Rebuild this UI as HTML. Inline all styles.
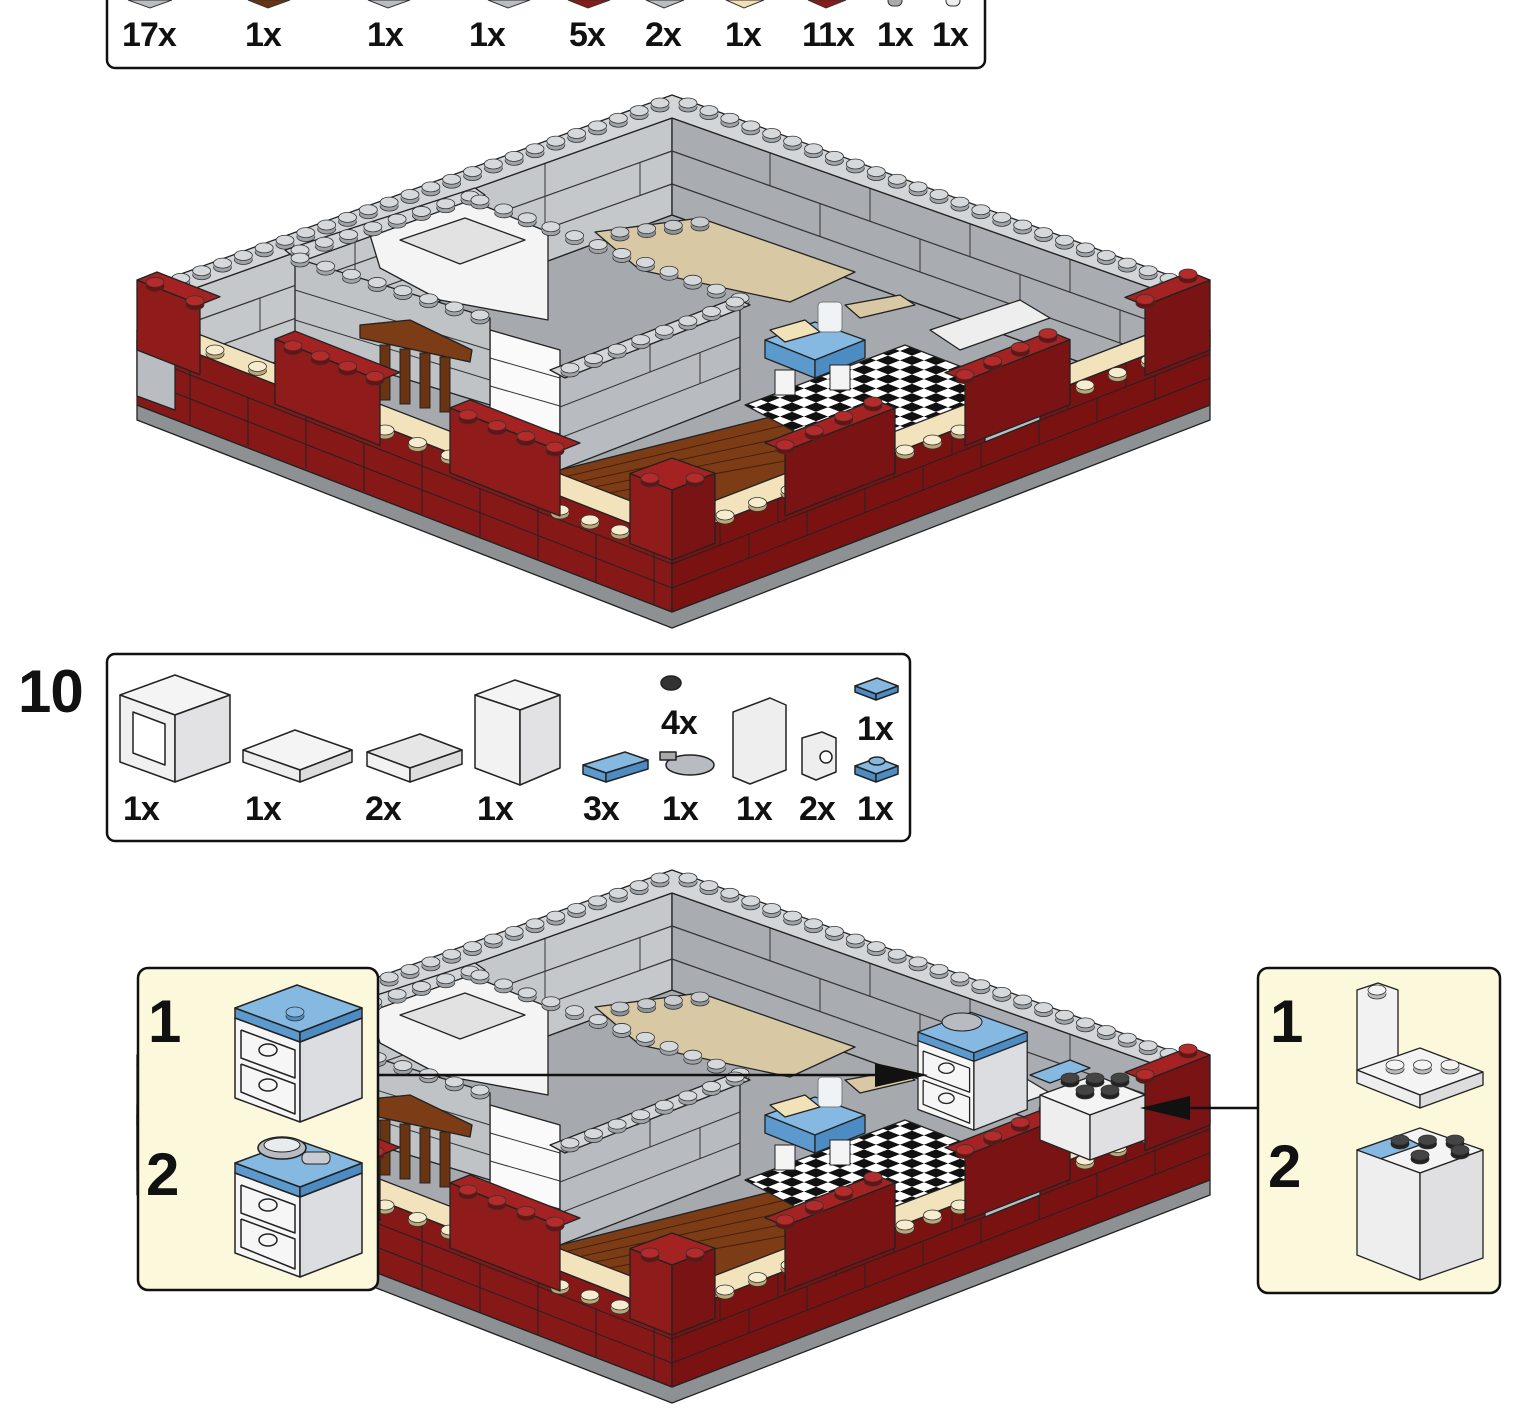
<!DOCTYPE html>
<html><head><meta charset="utf-8">
<style>
html,body{margin:0;padding:0;background:#fff;}
svg{display:block;}
text{font-family:"Liberation Sans Narrow","Liberation Sans",sans-serif;font-weight:bold;fill:#111;letter-spacing:-1px;}
</style></head>
<body>
<svg id="s" width="1524" height="1410" viewBox="0 0 1524 1410" xmlns="http://www.w3.org/2000/svg">
<defs>
<pattern id="chk" width="24" height="24" patternUnits="userSpaceOnUse" patternTransform="matrix(1,0.39,-1,0.39,0,0)">
<rect width="24" height="24" fill="#fff"/><rect width="12" height="12" fill="#111"/><rect x="12" y="12" width="12" height="12" fill="#111"/>
</pattern>
<g id="cab" stroke="#222" stroke-width="1.5" stroke-linejoin="round">
<polygon points="0,38 65,62 65,142 0,118" fill="#f6f6f6"/>
<polygon points="65,62 127,38 127,118 65,142" fill="#dcdde0"/>
<polygon points="0,28 65,52 65,62 0,38" fill="#5c9acd"/>
<polygon points="65,52 127,28 127,38 65,62" fill="#4d8cc2"/>
<polygon points="0,28 62,5 127,28 65,52" fill="#86b9e2"/>
<polyline points="6,50 60,70 60,98 6,78 6,50" fill="none"/>
<polyline points="6,84 60,104 60,134 6,112 6,84" fill="none"/>
<ellipse cx="33" cy="70" rx="9" ry="6" fill="none"/>
<ellipse cx="33" cy="105" rx="9" ry="6" fill="none"/>
</g>
</defs>
<g id="m1"></g>
<g id="m2"></g>

<rect x="107" y="-10" width="878" height="78" rx="8" fill="#fff" stroke="#111" stroke-width="2.5"/>
<g stroke="#333" stroke-width="1">
<polygon points="128,0 150,8 172,0" fill="#b9bdc1"/>
<polygon points="248,0 268,8 290,0" fill="#6a3412"/>
<polygon points="368,0 388,8 410,0" fill="#b9bdc1"/>
<polygon points="488,0 508,8 530,0" fill="#b9bdc1"/>
<polygon points="568,0 588,8 610,0" fill="#8b1a1a"/>
<polygon points="646,0 664,8 684,0" fill="#b9bdc1"/>
<polygon points="726,0 744,8 764,0" fill="#efe0b5"/>
<polygon points="808,0 826,8 846,0" fill="#8b1a1a"/>
<rect x="888" y="-4" width="14" height="10" rx="5" fill="#aaa"/>
<rect x="946" y="-4" width="14" height="10" rx="5" fill="#eee"/>
</g>
<g font-size="34">
<text x="122" y="46">17x</text><text x="245" y="46">1x</text><text x="367" y="46">1x</text><text x="469" y="46">1x</text>
<text x="569" y="46">5x</text><text x="645" y="46">2x</text><text x="725" y="46">1x</text><text x="802" y="46">11x</text>
<text x="877" y="46">1x</text><text x="932" y="46">1x</text>
</g>

<text x="18" y="712" font-size="60">10</text>
<rect x="107" y="654" width="803" height="187" rx="8" fill="#fff" stroke="#111" stroke-width="2.5"/>
<g stroke="#222" stroke-width="1.5" stroke-linejoin="round">
<polygon points="120,695 175,675 230,695 175,715" fill="#f4f4f4"/>
<polygon points="120,695 175,715 175,782 120,762" fill="#f0f0f0"/>
<polygon points="175,715 230,695 230,762 175,782" fill="#e2e2e4"/>
<polygon points="133,712 165,724 165,765 133,753" fill="#fff"/>
<polygon points="243,750 295,730 352,750 300,770" fill="#f4f4f4"/>
<polygon points="243,750 300,770 300,782 243,762" fill="#eee"/>
<polygon points="300,770 352,750 352,762 300,782" fill="#ddd"/>
<polygon points="367,752 420,734 462,750 410,768" fill="#e6e6e6"/>
<polygon points="367,752 410,768 410,782 367,766" fill="#f2f2f2"/>
<polygon points="410,768 462,750 462,764 410,782" fill="#ddd"/>
<polygon points="475,695 515,680 560,695 520,710" fill="#f4f4f4"/>
<polygon points="475,695 520,710 520,785 475,768" fill="#f2f2f2"/>
<polygon points="520,710 560,695 560,768 520,785" fill="#e2e2e4"/>
<polygon points="583,765 625,752 648,760 606,773" fill="#86b9e2"/>
<polygon points="583,765 606,773 606,782 583,774" fill="#5c9acd"/>
<polygon points="606,773 648,760 648,769 606,782" fill="#4d8cc2"/>
<ellipse cx="671" cy="683" rx="10" ry="7" fill="#333"/>
<ellipse cx="690" cy="765" rx="24" ry="10" fill="#b8bcc0"/>
<rect x="660" y="752" width="16" height="8" fill="#aaa"/>
<polygon points="733,712 770,698 786,705 786,770 750,784 733,777" fill="#eee"/>
<polygon points="802,738 822,732 836,738 836,772 816,780 802,774" fill="#eee"/>
<circle cx="826" cy="757" r="6" fill="#fff"/>
<polygon points="855,686 877,678 898,686 876,694" fill="#86b9e2"/>
<polygon points="855,686 876,694 876,700 855,692" fill="#4d8cc2"/>
<polygon points="876,694 898,686 898,692 876,700" fill="#4d8cc2"/>
<polygon points="855,766 877,758 898,766 876,774" fill="#86b9e2"/>
<polygon points="855,766 876,774 876,782 855,774" fill="#4d8cc2"/>
<polygon points="876,774 898,766 898,774 876,782" fill="#4d8cc2"/>
<ellipse cx="877" cy="761" rx="8" ry="4" fill="#86b9e2"/>
</g>
<g font-size="34">
<text x="123" y="820">1x</text><text x="245" y="820">1x</text><text x="365" y="820">2x</text><text x="477" y="820">1x</text>
<text x="583" y="820">3x</text><text x="662" y="820">1x</text><text x="736" y="820">1x</text><text x="799" y="820">2x</text>
<text x="857" y="820">1x</text><text x="661" y="734">4x</text><text x="857" y="740">1x</text>
</g>
<g id="ins"></g>
</svg>
<script>
function P(a){return a.map(p=>p.join(',')).join(' ');}
function poly(pts,fill,extra){return '<polygon points="'+P(pts)+'" fill="'+fill+'" stroke="#222" stroke-width="1.3" stroke-linejoin="round" '+(extra||'')+'/>';}
function stud(x,y,c,d){c=c||'#d6d9dc';d=d||'#9ea3a8';return '<ellipse cx="'+x+'" cy="'+(y+4)+'" rx="9" ry="5" fill="'+d+'" stroke="#333" stroke-width="0.8"/><rect x="'+(x-9)+'" y="'+y+'" width="18" height="4" fill="'+d+'"/><ellipse cx="'+x+'" cy="'+y+'" rx="9" ry="5" fill="'+c+'" stroke="#333" stroke-width="0.8"/>';}
function studLine(x1,y1,x2,y2,n,c,d){let s='';for(let i=0;i<n;i++){let t=n==1?0:i/(n-1);s+=stud(x1+(x2-x1)*t,y1+(y2-y1)*t,c,d);}return s;}
function line(x1,y1,x2,y2,w,col){return '<line x1="'+x1+'" y1="'+y1+'" x2="'+x2+'" y2="'+y2+'" stroke="'+(col||'#333')+'" stroke-width="'+(w||1)+'"/>';}
function yl(x){return 330+(x-137)*0.3925;}
function yr(x){return 540-(x-672)*0.3903;}
function model(dy){
 let s='<g transform="translate(0,'+dy+')">';
 s+=poly([[137,405],[672,612],[1210,405],[1210,420],[672,628],[137,420]],'#8e9194');
 s+=poly([[672,215],[1185,400],[672,585],[162,404]],'#a6aaae');
 s+=poly([[162,300],[672,118],[672,215],[162,404]],'#c5c8cb');
 s+=poly([[672,118],[1185,300],[1185,400],[672,215]],'#a9adb1');
 for(let k=1;k<3;k++){let o=k*33;s+=line(162,300+o,672,118+o,1.2);s+=line(672,118+o,1185,300+o,1.2);}
 for(let x=260;x<672;x+=95){let y=300-(x-162)*0.357;s+=line(x,y+(x%2?0:33),x,y+66,1);}
 for(let x=770;x<1130;x+=100){let y=118+(x-672)*0.355;s+=line(x,y,x,y+33,1);s+=line(x+50,y+51,x+50,y+84,1);}
 s+=poly([[137,290],[672,95],[1210,290],[1185,300],[672,118],[162,300]],'#d3d6d9');
 s+=studLine(160,286,660,103,25);
 s+=studLine(688,103,1190,286,25);
 s+=poly([[370,235],[470,200],[548,232],[548,320],[440,300],[380,268]],'#f4f4f4');
 s+=poly([[400,240],[465,218],[525,240],[460,264]],'#e2e2e2');
 s+=poly([[490,330],[560,350],[560,450],[490,430]],'#fafafa');
 for(let k=1;k<4;k++){s+=line(490,330+k*28,560,350+k*28,1);}
 s+=poly([[595,232],[700,218],[855,272],[790,302],[640,270]],'#d8c8a4');
 s+=studLine(620,232,700,222,4,'#c9ccce','#8e9397');
 s+=poly([[295,258],[490,318],[490,405],[295,345]],'#bfc3c6');
 s+=line(295,290,490,350,1);s+=line(295,320,490,380,1);
 s+=poly([[285,250],[475,188],[485,195],[300,262]],'#d3d6d9');
 s+=studLine(300,250,470,196,8);
 s+=studLine(480,200,740,298,12);
 s+=studLine(300,258,480,315,8);
 s+=poly([[560,470],[790,412],[800,470],[650,535],[560,505]],'#7b3c16');
 for(let k=1;k<5;k++){s+=line(560,470+k*8,790,412+k*12,1,'#4a200a');}
 s+=poly([[745,405],[905,345],[975,372],[975,445],[820,445]],'url(#chk)');
 s+=poly([[560,375],[740,305],[740,400],[560,470]],'#b8bcc0');
 s+=line(560,407,740,337,1);s+=line(560,438,740,368,1);s+=line(650,340,650,372,1);s+=line(700,352,700,384,1);
 s+=poly([[550,370],[735,298],[750,305],[565,378]],'#d3d6d9');
 s+=studLine(570,368,735,302,8);
 s+=poly([[360,325],[410,320],[472,350],[470,362],[360,338]],'#7b3c16');
 for(let x of [385,405,425,445]){s+='<rect x="'+(x-5)+'" y="'+(340+(x-360)*0.2)+'" width="10" height="55" fill="#6a3412" stroke="#222"/>';}
 s+=poly([[765,340],[815,322],[865,340],[815,360]],'#86b9e2');
 s+=poly([[765,340],[815,360],[815,378],[765,358]],'#5c9acd');
 s+=poly([[815,360],[865,340],[865,358],[815,378]],'#4d8cc2');
 s+=poly([[770,330],[805,320],[820,332],[785,342]],'#f1e2b8');
 s+='<rect x="775" y="370" width="20" height="25" fill="#f4f4f4" stroke="#222"/><rect x="830" y="365" width="20" height="25" fill="#f4f4f4" stroke="#222"/>';
 s+='<rect x="818" y="302" width="24" height="30" rx="4" fill="#f0f3f5" stroke="#777"/>';
 s+=poly([[845,305],[900,295],[915,305],[860,318]],'#d8c8a4');
 s+=poly([[930,330],[1020,300],[1050,318],[960,350]],'#eeeeee');
 s+=poly([[137,330],[672,540],[672,612],[137,405]],'#861818');
 s+=poly([[672,540],[1210,330],[1210,405],[672,612]],'#7a1212');
 for(let k=1;k<3;k++){let o=k*24;s+=line(137,330+o,672,540+o,1,'#222');s+=line(672,540+o,1210,330+o,1,'#222');}
 for(let x=190;x<672;x+=58){let y=yl(x);s+=line(x,y+(x%4?0:24),x,y+72,1,'#222');}
 for(let x=720;x<1180;x+=58){let y=yr(x);s+=line(x,y,x,y+24,1,'#222');s+=line(x+29,y-11+24,x+29,y-11+48,1,'#222');}
 s+=poly([[137,330],[672,540],[1210,330],[1185,320],[672,517],[162,320]],'#f2e3bd');
 s+=studLine(215,350,300,383,3,'#f6ecd0','#bba878');
 s+=studLine(385,430,450,455,3,'#f6ecd0','#bba878');
 s+=studLine(560,510,620,530,3,'#f6ecd0','#bba878');
 s+=studLine(725,515,790,490,3,'#f6ecd0','#bba878');
 s+=studLine(905,450,960,430,3,'#f6ecd0','#bba878');
 s+=studLine(1085,385,1150,360,3,'#f6ecd0','#bba878');
 s+=poly([[137,340],[175,354],[175,410],[137,396]],'#b9bdc1');
 s+=poly([[455,430],[500,447],[500,490],[455,473]],'#b9bdc1');
 s+=poly([[985,400],[1040,378],[1040,420],[985,442]],'#b9bdc1');
 const pl=[[137,200,50],[275,380,45],[450,560,45],[785,895,45],[965,1070,45],[1145,1210,50]];
 for(const [a,b,h] of pl){
  if(b<=672){let y1=yl(a),y2=yl(b);
   s+=poly([[a,y1-h],[b,y2-h],[b,y2+20],[a,y1+20]],'#8f1b1b');
   s+=poly([[a,y1-h],[b,y2-h],[b+20,y2-h-8],[a+20,y1-h-8]],'#a52222');
   s+=studLine(a+18,y1-h-4+(b-a)*0.1,b-5,y2-h-4,Math.max(1,Math.round((b-a)/28)),'#b52a2a','#6d1010');
  } else {let y1=yr(a),y2=yr(b);
   s+=poly([[a,y1-h],[b,y2-h],[b,y2+20],[a,y1+20]],'#7a1414');
   s+=poly([[a,y1-h],[b,y2-h],[b-20,y2-h-8],[a-20,y1-h-8]],'#a52222');
   s+=studLine(a,y1-h-6,b-22,y2-h-6,Math.max(1,Math.round((b-a)/28)),'#b52a2a','#6d1010');
  }
 }
 s+=poly([[630,yl(630)-50],[672,490],[672,560],[630,yl(630)+20]],'#8f1b1b');
 s+=poly([[672,490],[715,yr(715)-50],[715,yr(715)+20],[672,560]],'#7a1414');
 s+=poly([[630,yl(630)-50],[672,490],[715,yr(715)-50],[672,458]],'#a52222');
 s+=studLine(650,478,695,478,2,'#b52a2a','#6d1010');
 s+='</g>';
 return s;
}
document.getElementById('m1').innerHTML=model(0);
let m2=model(775);
let e='';
e+='<use href="#cab" transform="translate(918,1008) scale(0.86)"/>';
e+='<ellipse cx="962" cy="1022" rx="20" ry="9" fill="#b8bcc0" stroke="#222"/>';
e+=poly([[1030,1075],[1070,1060],[1090,1068],[1050,1083]],'#86b9e2');
e+=poly([[1040,1095],[1095,1075],[1145,1095],[1090,1115]],'#f4f4f4');
e+=poly([[1040,1095],[1090,1115],[1090,1160],[1040,1140]],'#eeeeee');
e+=poly([[1090,1115],[1145,1095],[1145,1140],[1090,1160]],'#e0e0e2');
e+=studLine(1070,1078,1120,1078,3,'#444','#222');
e+=studLine(1085,1090,1110,1090,2,'#444','#222');
m2+=e;
document.getElementById('m2').innerHTML=m2;
let t='';
t+='<rect x="138" y="968" width="240" height="322" rx="10" fill="#fcf8dc" stroke="#111" stroke-width="2.5"/>';
t+='<text x="148" y="1042" font-size="60">1</text><text x="146" y="1195" font-size="60">2</text>';
t+='<use href="#cab" transform="translate(235,980)"/>';
t+='<use href="#cab" transform="translate(235,1135)"/>';
t+=stud(295,1012,'#86b9e2','#4d8cc2');
t+='<ellipse cx="282" cy="1148" rx="24" ry="11" fill="#b8bcc0" stroke="#222" stroke-width="1.5"/><ellipse cx="282" cy="1145" rx="18" ry="7" fill="#e8ecee" stroke="#222"/><rect x="302" y="1152" width="28" height="12" rx="5" fill="#c8ccd0" stroke="#222"/>';
t+='<rect x="1258" y="968" width="242" height="325" rx="10" fill="#fcf8dc" stroke="#111" stroke-width="2.5"/>';
t+='<text x="1270" y="1042" font-size="60">1</text><text x="1268" y="1187" font-size="60">2</text>';
t+=poly([[1357,990],[1378,983],[1398,990],[1398,1080],[1378,1088],[1357,1080]],'#f2f2f2');
t+=poly([[1357,1070],[1420,1048],[1483,1072],[1420,1095]],'#f4f4f4');
t+=poly([[1357,1070],[1420,1095],[1420,1108],[1357,1083]],'#eee');
t+=poly([[1420,1095],[1483,1072],[1483,1085],[1420,1108]],'#ddd');
t+=studLine(1395,1065,1450,1065,3,'#f4f4f4','#bbb');
t+=stud(1377,990,'#f4f4f4','#bbb');
t+=poly([[1357,1150],[1420,1128],[1483,1150],[1420,1173]],'#f4f4f4');
t+=poly([[1357,1150],[1400,1135],[1420,1145],[1377,1160]],'#86b9e2');
t+=poly([[1357,1150],[1420,1173],[1420,1280],[1357,1255]],'#eeeeee');
t+=poly([[1420,1173],[1483,1150],[1483,1258],[1420,1280]],'#e0e0e2');
t+=studLine(1400,1140,1455,1140,3,'#444','#222');t+=studLine(1420,1155,1460,1150,2,'#444','#222');
t+='<line x1="378" y1="1075" x2="890" y2="1075" stroke="#111" stroke-width="2.5"/><polygon points="875,1063 928,1075 875,1087" fill="#111"/>';
t+='<line x1="1258" y1="1108" x2="1180" y2="1108" stroke="#111" stroke-width="2.5"/><polygon points="1190,1096 1140,1108 1190,1120" fill="#111"/>';
document.getElementById('ins').innerHTML=t;
</script>
</body></html>
